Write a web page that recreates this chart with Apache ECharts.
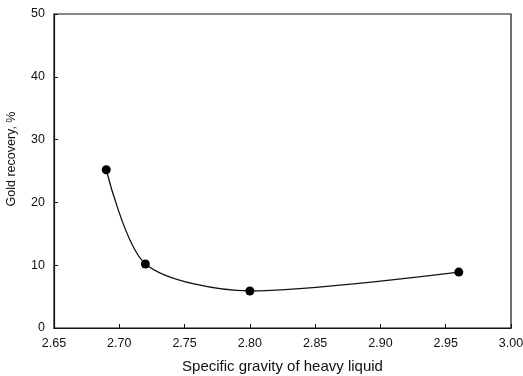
<!DOCTYPE html>
<html>
<head>
<meta charset="utf-8">
<script src="https://cdn.jsdelivr.net/npm/echarts@6/dist/echarts.min.js"></script>
<style>
  html, body { margin: 0; padding: 0; background: #fff; }
  #chart { width: 523px; height: 376px; }
</style>
</head>
<body>
<div id="chart"></div>
<script>
// Specific gravity of the heavy liquid and the gold recovered at each
const gravity = [2.69, 2.72, 2.80, 2.96];
const recovery = [25.2, 10.2, 5.9, 8.9];

const xTicks = { min: 2.65, max: 3.00, interval: 0.05 };
const yTicks = { min: 0, max: 50, interval: 10 };

const chart = echarts.init(document.getElementById('chart'));
const font = '"Liberation Sans", Arial, sans-serif';

chart.setOption({
  animation: false,
  grid: {
    left: 54, right: 12, top: 14, bottom: 48,
    outerBoundsMode: 'none',
    show: true, borderColor: '#111', borderWidth: 1.2
  },
  xAxis: {
    type: 'value',
    min: xTicks.min, max: xTicks.max, interval: xTicks.interval,
    name: 'Specific gravity of heavy liquid',
    nameLocation: 'middle', nameGap: 31,
    nameTextStyle: { fontFamily: font, fontSize: 15, color: '#111' },
    axisLine: { show: true, lineStyle: { color: '#111', width: 1.2 } },
    axisTick: { show: true, inside: true, length: 4, lineStyle: { color: '#111' } },
    axisLabel: { fontFamily: font, fontSize: 12.5, color: '#111', margin: 9,
      formatter: v => v.toFixed(2) },
    splitLine: { show: false }
  },
  yAxis: {
    type: 'value',
    min: yTicks.min, max: yTicks.max, interval: yTicks.interval,
    name: 'Gold recovery, %',
    nameLocation: 'middle', nameGap: 36,
    nameTextStyle: { fontFamily: font, fontSize: 12.5, color: '#111', padding: [0, 0, 0, 24] },
    axisLine: { show: true, lineStyle: { color: '#111', width: 1.2 } },
    axisTick: { show: true, inside: true, length: 4, lineStyle: { color: '#111' } },
    axisLabel: { fontFamily: font, fontSize: 12.5, color: '#111', margin: 9 },
    splitLine: { show: false }
  },
  series: [{
    type: 'line',
    data: gravity.map((g, i) => [g, recovery[i]]),
    smooth: 0.28,
    symbol: 'circle',
    symbolSize: 9,
    itemStyle: { color: '#000' },
    lineStyle: { color: '#111', width: 1.3 }
  }]
});
</script>
</body>
</html>
